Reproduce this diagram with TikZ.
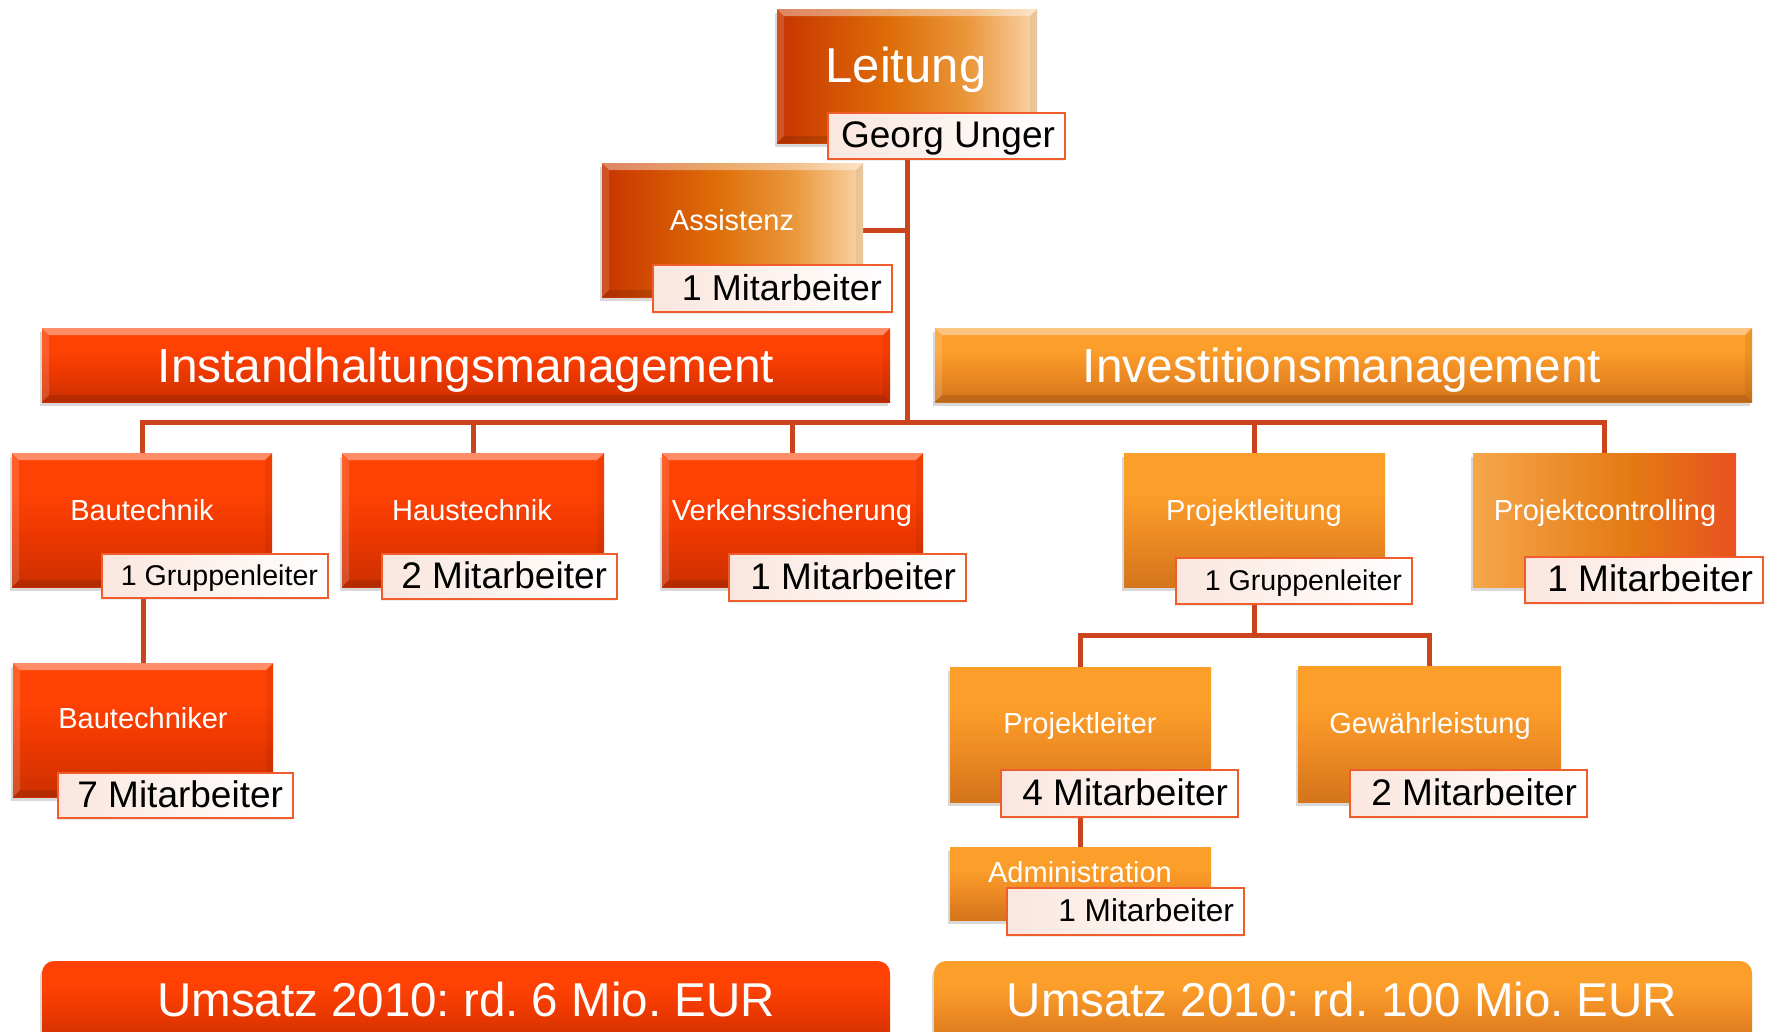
\documentclass[tikz,border=0pt]{standalone}
\usepackage{fontspec}
\setmainfont{Liberation Sans}
\usetikzlibrary{shadows}
\frenchspacing

\pgfdeclarelayer{bg}
\pgfsetlayers{bg,main}

\definecolor{redtop}{RGB}{255,66,4}
\definecolor{redmid}{RGB}{236,56,0}
\definecolor{redbot}{RGB}{204,48,0}
\definecolor{orgtop}{RGB}{252,158,42}
\definecolor{orgmid}{RGB}{238,140,36}
\definecolor{orgbot}{RGB}{212,116,28}
\definecolor{linkc}{RGB}{204,68,28}
\definecolor{lblline}{RGB}{240,92,44}
\definecolor{lblfill}{RGB}{250,230,222}
\definecolor{ls1}{RGB}{200,52,0}
\definecolor{ls2}{RGB}{222,110,8}
\definecolor{ls3}{RGB}{234,152,62}
\definecolor{ls4}{RGB}{250,212,168}
\definecolor{pc1}{RGB}{246,166,76}
\definecolor{pc2}{RGB}{228,122,18}
\definecolor{pc3}{RGB}{232,82,32}

% colour runs for the boxes
\pgfdeclareverticalshading{redv}{100bp}{color(0bp)=(redbot); color(25bp)=(redbot); color(45bp)=(redmid); color(60bp)=(redtop); color(100bp)=(redtop)}
\pgfdeclareverticalshading{orgv}{100bp}{color(0bp)=(orgbot); color(25bp)=(orgbot); color(45bp)=(orgmid); color(60bp)=(orgtop); color(100bp)=(orgtop)}
\pgfdeclarehorizontalshading{leitshade}{100bp}{color(0bp)=(ls1); color(25bp)=(ls1); color(47bp)=(ls2); color(62bp)=(ls3); color(75bp)=(ls4); color(100bp)=(ls4)}
\pgfdeclarehorizontalshading{pcshade}{100bp}{color(0bp)=(pc1); color(25bp)=(pc1); color(55bp)=(pc2); color(75bp)=(pc3); color(100bp)=(pc3)}

\newcommand{\fz}[1]{\fontsize{#1}{#1}\selectfont}

\tikzset{
  sz/.style 2 args={minimum width=#1, minimum height=#2, inner sep=0pt},
  shadowed/.style={drop shadow={shadow xshift=-2pt, shadow yshift=-4pt, opacity=.3}},
  bevel/.style={path picture={
    \fill[white,opacity=.4] (path picture bounding box.north west) -- (path picture bounding box.north east)
      -- ([xshift=-7pt,yshift=-7pt]path picture bounding box.north east) -- ([xshift=7pt,yshift=-7pt]path picture bounding box.north west) -- cycle;
    \fill[white,opacity=.15] (path picture bounding box.north west) -- ([xshift=7pt,yshift=-7pt]path picture bounding box.north west)
      -- ([xshift=7pt,yshift=7pt]path picture bounding box.south west) -- (path picture bounding box.south west) -- cycle;
    \fill[black,opacity=.12] (path picture bounding box.south west) -- (path picture bounding box.south east)
      -- ([xshift=-7pt,yshift=7pt]path picture bounding box.south east) -- ([xshift=7pt,yshift=7pt]path picture bounding box.south west) -- cycle;
    \fill[black,opacity=.06] (path picture bounding box.north east) -- ([xshift=-7pt,yshift=-7pt]path picture bounding box.north east)
      -- ([xshift=-7pt,yshift=7pt]path picture bounding box.south east) -- (path picture bounding box.south east) -- cycle;
  }},
  redbox/.style={shade, shading=redv, shadowed, bevel},
  orgbox/.style={shade, shading=orgv, shadowed},
  leitbox/.style={shade, shading=leitshade, shadowed, bevel},
  pcbox/.style={shade, shading=pcshade, shadowed},
  sumbar/.style={shade, rounded corners=12pt, shadowed},
  ttl/.style={text=white, anchor=base, inner sep=0pt, font=\fz{#1}},
  ttl/.default=29,
  lbl/.style={draw=lblline, line width=2.5pt, left color=lblfill, right color=white,
    inner xsep=10pt, inner ysep=0pt, align=flush right, text=black,
    font=\fz{#1}, text height=0.78*#1pt, text depth=0.14*#1pt,
    drop shadow={shadow xshift=-1pt, shadow yshift=-2pt, opacity=.15}},
  lbl/.default=37,
  lw/.style 2 args={text width=#1-20pt, minimum height=#2},
  link/.style={draw=linkc, line width=5pt}
}

\begin{document}
\begin{tikzpicture}[x=1pt,y=-1pt]
\useasboundingbox (0,0) rectangle (1766,1031);
\begin{pgfonlayer}{bg}
  \fill[white] (0,0) rectangle (1766,1031);
\end{pgfonlayer}

% top: management and assistant
\node[leitbox, sz={260}{134}] (lei) at (907,76) {};
\node[ttl=49] (lei-t) at (906,82) {Leitung};
\node[lbl, lw={237}{46}] (gu) at (946.5,136) {Georg Unger};

\node[leitbox, sz={261}{134}] (as) at (732.5,230) {};
\node[ttl] (as-t) at (732,230) {Assistenz};
\node[lbl=36, lw={239}{47}] (asl) at (772.5,288.5) {1 Mitarbeiter};

% the two divisions
\node[redbox, sz={848}{74}] (ih) at (466,365) {};
\node[ttl=47.8] (ih-t) at (466,382) {Instandhaltungsmanagement};
\node[shade, shading=orgv, shadowed, bevel, sz={817}{74}] (iv) at (1343.5,365) {};
\node[ttl=47.8] (iv-t) at (1342,382) {Investitionsmanagement};

% departments
\node[redbox, sz={260}{134}] (bt) at (142,520) {};
\node[ttl] (bt-t) at (142,520) {Bautechnik};
\node[lbl=28.6, lw={226}{44}] (btl) at (215,576) {1 Gruppenleiter};

\node[redbox, sz={262}{134}] (ht) at (473,520) {};
\node[ttl] (ht-t) at (472,520) {Haustechnik};
\node[lbl, lw={235}{45}] (htl) at (499.5,576.5) {2 Mitarbeiter};

\node[redbox, sz={261}{134}] (vs) at (792.5,520) {};
\node[ttl] (vs-t) at (792,520) {Verkehrssicherung};
\node[lbl, lw={237}{47}] (vsl) at (847.5,577.5) {1 Mitarbeiter};

\node[orgbox, sz={261}{134}] (pl) at (1254.5,520) {};
\node[ttl] (pl-t) at (1254,520) {Projektleitung};
\node[lbl=28.6, lw={236}{46}] (pll) at (1294,581) {1 Gruppenleiter};

\node[pcbox, sz={263}{134}] (pc) at (1604.5,520) {};
\node[ttl] (pc-t) at (1605,520) {Projektcontrolling};
\node[lbl, lw={238}{46}] (pcl) at (1644,580) {1 Mitarbeiter};

% groups
\node[redbox, sz={260}{134}] (btr) at (143,730) {};
\node[ttl] (btr-t) at (143,728) {Bautechniker};
\node[lbl, lw={235}{45}] (btrl) at (175.5,795.5) {7 Mitarbeiter};

\node[orgbox, sz={261}{135}] (pler) at (1080.5,734.5) {};
\node[ttl] (pler-t) at (1080,733) {Projektleiter};
\node[lbl, lw={237}{47}] (plerl) at (1119.5,793.5) {4 Mitarbeiter};

\node[orgbox, sz={263}{136}] (gew) at (1429.5,734) {};
\node[ttl] (gew-t) at (1430,733) {Gewährleistung};
\node[lbl, lw={237}{47}] (gewl) at (1468.5,793.5) {2 Mitarbeiter};

\node[orgbox, sz={261}{73}] (adm) at (1080.5,883.5) {};
\node[ttl] (adm-t) at (1080,882) {Administration};
\node[lbl=31.6, lw={237}{47}] (adml) at (1125.5,911.5) {1 Mitarbeiter};

% turnover bars
\node[sumbar, shading=redv, sz={848}{84}] (u1) at (466,1003) {};
\node[ttl=47.5] (u1-t) at (466,1016) {Umsatz 2010: rd. 6 Mio. EUR};
\node[sumbar, shading=orgv, sz={818}{84}] (u2) at (1343,1003) {};
\node[ttl=47.5] (u2-t) at (1342,1016) {Umsatz 2010: rd. 100 Mio. EUR};

% connectors
\coordinate (busy) at (0,422);
\coordinate (subbus) at (0,635);
\begin{pgfonlayer}{bg}
  \draw[link] (lei.south) -- (lei.south |- busy);
  \draw[link] (as.east) -- (as.east -| lei.south);
  \draw[link] (bt.north) |- (pc.north |- busy) -- (pc.north);
  \draw[link] (ht.north) -- (ht.north |- busy);
  \draw[link] (vs.north) -- (vs.north |- busy);
  \draw[link] (pl.north) -- (pl.north |- busy);
  \draw[link] (btr.north) -- (btr.north |- bt.south);
  \draw[link] (pl.south) -- (pl.south |- subbus);
  \draw[link] (pler.north) |- (gew.north |- subbus) -- (gew.north);
  \draw[link] (adm.north) -- (pler.south);
\end{pgfonlayer}
\end{tikzpicture}
\end{document}
